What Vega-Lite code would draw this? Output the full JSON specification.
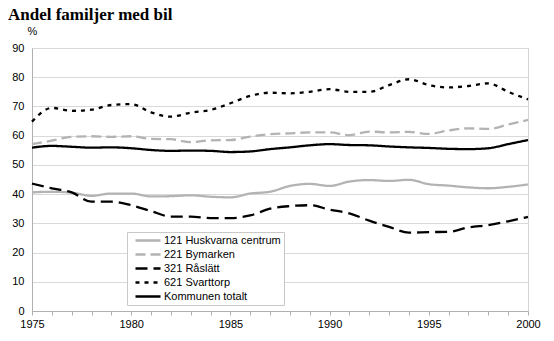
{
  "$schema": "https://vega.github.io/schema/vega-lite/v6.json",
  "width": 496,
  "height": 263,
  "autosize": {"type": "none"},
  "padding": {"left": 32, "top": 48, "right": 26, "bottom": 30},
  "background": "white",
  "title": {"text": "Andel familjer med bil", "anchor": "start", "frame": "group", "dx": -24, "dy": 3, "offset": 4, "font": "Liberation Serif", "fontSize": 17, "fontWeight": "bold", "color": "black"},
  "data": {"values": [
    {"year":1975,"series":"121 Huskvarna centrum","value":40.6},{"year":1976,"series":"121 Huskvarna centrum","value":40.8},{"year":1977,"series":"121 Huskvarna centrum","value":40.5},{"year":1978,"series":"121 Huskvarna centrum","value":39.4},{"year":1979,"series":"121 Huskvarna centrum","value":40.2},{"year":1980,"series":"121 Huskvarna centrum","value":40.2},{"year":1981,"series":"121 Huskvarna centrum","value":39.2},{"year":1982,"series":"121 Huskvarna centrum","value":39.3},{"year":1983,"series":"121 Huskvarna centrum","value":39.6},{"year":1984,"series":"121 Huskvarna centrum","value":39.1},{"year":1985,"series":"121 Huskvarna centrum","value":38.9},{"year":1986,"series":"121 Huskvarna centrum","value":40.2},{"year":1987,"series":"121 Huskvarna centrum","value":40.8},{"year":1988,"series":"121 Huskvarna centrum","value":42.8},{"year":1989,"series":"121 Huskvarna centrum","value":43.5},{"year":1990,"series":"121 Huskvarna centrum","value":42.8},{"year":1991,"series":"121 Huskvarna centrum","value":44.3},{"year":1992,"series":"121 Huskvarna centrum","value":44.8},{"year":1993,"series":"121 Huskvarna centrum","value":44.5},{"year":1994,"series":"121 Huskvarna centrum","value":44.9},{"year":1995,"series":"121 Huskvarna centrum","value":43.4},{"year":1996,"series":"121 Huskvarna centrum","value":42.9},{"year":1997,"series":"121 Huskvarna centrum","value":42.3},{"year":1998,"series":"121 Huskvarna centrum","value":42.0},{"year":1999,"series":"121 Huskvarna centrum","value":42.5},{"year":2000,"series":"121 Huskvarna centrum","value":43.3},
    {"year":1975,"series":"221 Bymarken","value":57.1},{"year":1976,"series":"221 Bymarken","value":58.3},{"year":1977,"series":"221 Bymarken","value":59.6},{"year":1978,"series":"221 Bymarken","value":59.8},{"year":1979,"series":"221 Bymarken","value":59.6},{"year":1980,"series":"221 Bymarken","value":59.8},{"year":1981,"series":"221 Bymarken","value":58.9},{"year":1982,"series":"221 Bymarken","value":58.8},{"year":1983,"series":"221 Bymarken","value":57.8},{"year":1984,"series":"221 Bymarken","value":58.4},{"year":1985,"series":"221 Bymarken","value":58.5},{"year":1986,"series":"221 Bymarken","value":59.7},{"year":1987,"series":"221 Bymarken","value":60.5},{"year":1988,"series":"221 Bymarken","value":60.8},{"year":1989,"series":"221 Bymarken","value":61.1},{"year":1990,"series":"221 Bymarken","value":61.1},{"year":1991,"series":"221 Bymarken","value":60.2},{"year":1992,"series":"221 Bymarken","value":61.4},{"year":1993,"series":"221 Bymarken","value":61.1},{"year":1994,"series":"221 Bymarken","value":61.3},{"year":1995,"series":"221 Bymarken","value":60.6},{"year":1996,"series":"221 Bymarken","value":61.8},{"year":1997,"series":"221 Bymarken","value":62.5},{"year":1998,"series":"221 Bymarken","value":62.3},{"year":1999,"series":"221 Bymarken","value":63.8},{"year":2000,"series":"221 Bymarken","value":65.4},
    {"year":1975,"series":"321 Råslätt","value":43.6},{"year":1976,"series":"321 Råslätt","value":42.0},{"year":1977,"series":"321 Råslätt","value":40.6},{"year":1978,"series":"321 Råslätt","value":37.4},{"year":1979,"series":"321 Råslätt","value":37.4},{"year":1980,"series":"321 Råslätt","value":36.2},{"year":1981,"series":"321 Råslätt","value":34.2},{"year":1982,"series":"321 Råslätt","value":32.3},{"year":1983,"series":"321 Råslätt","value":32.3},{"year":1984,"series":"321 Råslätt","value":31.8},{"year":1985,"series":"321 Råslätt","value":31.8},{"year":1986,"series":"321 Råslätt","value":32.7},{"year":1987,"series":"321 Råslätt","value":35.0},{"year":1988,"series":"321 Råslätt","value":35.9},{"year":1989,"series":"321 Råslätt","value":36.2},{"year":1990,"series":"321 Råslätt","value":34.7},{"year":1991,"series":"321 Råslätt","value":33.4},{"year":1992,"series":"321 Råslätt","value":30.9},{"year":1993,"series":"321 Råslätt","value":28.8},{"year":1994,"series":"321 Råslätt","value":26.8},{"year":1995,"series":"321 Råslätt","value":27.0},{"year":1996,"series":"321 Råslätt","value":27.1},{"year":1997,"series":"321 Råslätt","value":28.6},{"year":1998,"series":"321 Råslätt","value":29.4},{"year":1999,"series":"321 Råslätt","value":30.7},{"year":2000,"series":"321 Råslätt","value":32.2},
    {"year":1975,"series":"621 Svarttorp","value":64.8},{"year":1976,"series":"621 Svarttorp","value":69.5},{"year":1977,"series":"621 Svarttorp","value":68.5},{"year":1978,"series":"621 Svarttorp","value":68.9},{"year":1979,"series":"621 Svarttorp","value":70.5},{"year":1980,"series":"621 Svarttorp","value":70.8},{"year":1981,"series":"621 Svarttorp","value":68.0},{"year":1982,"series":"621 Svarttorp","value":66.5},{"year":1983,"series":"621 Svarttorp","value":67.9},{"year":1984,"series":"621 Svarttorp","value":68.8},{"year":1985,"series":"621 Svarttorp","value":71.1},{"year":1986,"series":"621 Svarttorp","value":73.6},{"year":1987,"series":"621 Svarttorp","value":74.7},{"year":1988,"series":"621 Svarttorp","value":74.5},{"year":1989,"series":"621 Svarttorp","value":75.0},{"year":1990,"series":"621 Svarttorp","value":75.9},{"year":1991,"series":"621 Svarttorp","value":75.0},{"year":1992,"series":"621 Svarttorp","value":75.0},{"year":1993,"series":"621 Svarttorp","value":77.3},{"year":1994,"series":"621 Svarttorp","value":79.3},{"year":1995,"series":"621 Svarttorp","value":77.3},{"year":1996,"series":"621 Svarttorp","value":76.5},{"year":1997,"series":"621 Svarttorp","value":77.0},{"year":1998,"series":"621 Svarttorp","value":77.9},{"year":1999,"series":"621 Svarttorp","value":75.0},{"year":2000,"series":"621 Svarttorp","value":72.4},
    {"year":1975,"series":"Kommunen totalt","value":55.9},{"year":1976,"series":"Kommunen totalt","value":56.5},{"year":1977,"series":"Kommunen totalt","value":56.2},{"year":1978,"series":"Kommunen totalt","value":55.9},{"year":1979,"series":"Kommunen totalt","value":56.0},{"year":1980,"series":"Kommunen totalt","value":55.7},{"year":1981,"series":"Kommunen totalt","value":55.1},{"year":1982,"series":"Kommunen totalt","value":54.8},{"year":1983,"series":"Kommunen totalt","value":54.9},{"year":1984,"series":"Kommunen totalt","value":54.8},{"year":1985,"series":"Kommunen totalt","value":54.4},{"year":1986,"series":"Kommunen totalt","value":54.6},{"year":1987,"series":"Kommunen totalt","value":55.4},{"year":1988,"series":"Kommunen totalt","value":56.0},{"year":1989,"series":"Kommunen totalt","value":56.7},{"year":1990,"series":"Kommunen totalt","value":57.1},{"year":1991,"series":"Kommunen totalt","value":56.8},{"year":1992,"series":"Kommunen totalt","value":56.7},{"year":1993,"series":"Kommunen totalt","value":56.3},{"year":1994,"series":"Kommunen totalt","value":56.0},{"year":1995,"series":"Kommunen totalt","value":55.8},{"year":1996,"series":"Kommunen totalt","value":55.5},{"year":1997,"series":"Kommunen totalt","value":55.4},{"year":1998,"series":"Kommunen totalt","value":55.7},{"year":1999,"series":"Kommunen totalt","value":57.1},{"year":2000,"series":"Kommunen totalt","value":58.5}
  ]},
  "mark": {"type": "line", "strokeWidth": 2.3, "interpolate": "monotone"},
  "encoding": {
    "x": {"field": "year", "type": "quantitative", "scale": {"domain": [1975, 2000], "nice": false, "zero": false},
      "axis": {"values": [1975,1976,1977,1978,1979,1980,1981,1982,1983,1984,1985,1986,1987,1988,1989,1990,1991,1992,1993,1994,1995,1996,1997,1998,1999,2000],
        "labelExpr": "datum.value % 5 == 0 ? datum.label : ''", "format": "d", "grid": false, "domainColor": "#b0b0b0", "tickColor": "#b0b0b0", "tickSize": 4, "labelPadding": 3, "labelFontSize": 11, "labelColor": "black", "labelFont": "Liberation Sans", "title": null, "labelFlush": false}},
    "y": {"field": "value", "type": "quantitative", "scale": {"domain": [0, 90], "nice": false},
      "axis": {"values": [0,10,20,30,40,50,60,70,80,90], "grid": true, "gridColor": "#d9d9d9", "domainColor": "#b0b0b0", "ticks": false, "labelPadding": 8, "labelFontSize": 11, "labelColor": "black", "labelFont": "Liberation Sans",
        "title": "%", "titleAngle": 0, "titleX": 0, "titleY": -17, "titleAlign": "center", "titleBaseline": "middle", "titleFontWeight": "normal", "titleFontSize": 11, "titleFont": "Liberation Sans", "titleColor": "black"}},
    "color": {"field": "series", "type": "nominal",
      "scale": {"domain": ["121 Huskvarna centrum", "221 Bymarken", "321 Råslätt", "621 Svarttorp", "Kommunen totalt"], "range": ["#b3b3b3", "#b3b3b3", "#000000", "#000000", "#000000"]},
      "legend": {"title": null, "orient": "none", "legendX": 95, "legendY": 184, "symbolType": "M0,0H25", "symbolSize": 4, "symbolStrokeWidth": 2.5, "labelFontSize": 11, "labelFont": "Liberation Sans", "labelColor": "black", "labelOffset": 23, "padding": 3, "rowPadding": 2, "strokeColor": "#c8c8c8", "fillColor": "white", "labelLimit": 200}},
    "strokeDash": {"field": "series", "type": "nominal",
      "scale": {"domain": ["121 Huskvarna centrum", "221 Bymarken", "321 Råslätt", "621 Svarttorp", "Kommunen totalt"], "range": [[1, 0], [10, 5], [12, 6], [4, 5], [1, 0]]},
      "legend": {"title": null, "orient": "none", "legendX": 95, "legendY": 184, "symbolType": "M0,0H25", "symbolSize": 4, "symbolStrokeWidth": 2.5, "labelFontSize": 11, "labelFont": "Liberation Sans", "labelColor": "black", "labelOffset": 23, "padding": 3, "rowPadding": 2, "strokeColor": "#c8c8c8", "fillColor": "white", "labelLimit": 200}}
  },
  "config": {"view": {"stroke": "#d4d4d4"}, "font": "Liberation Sans"}
}
